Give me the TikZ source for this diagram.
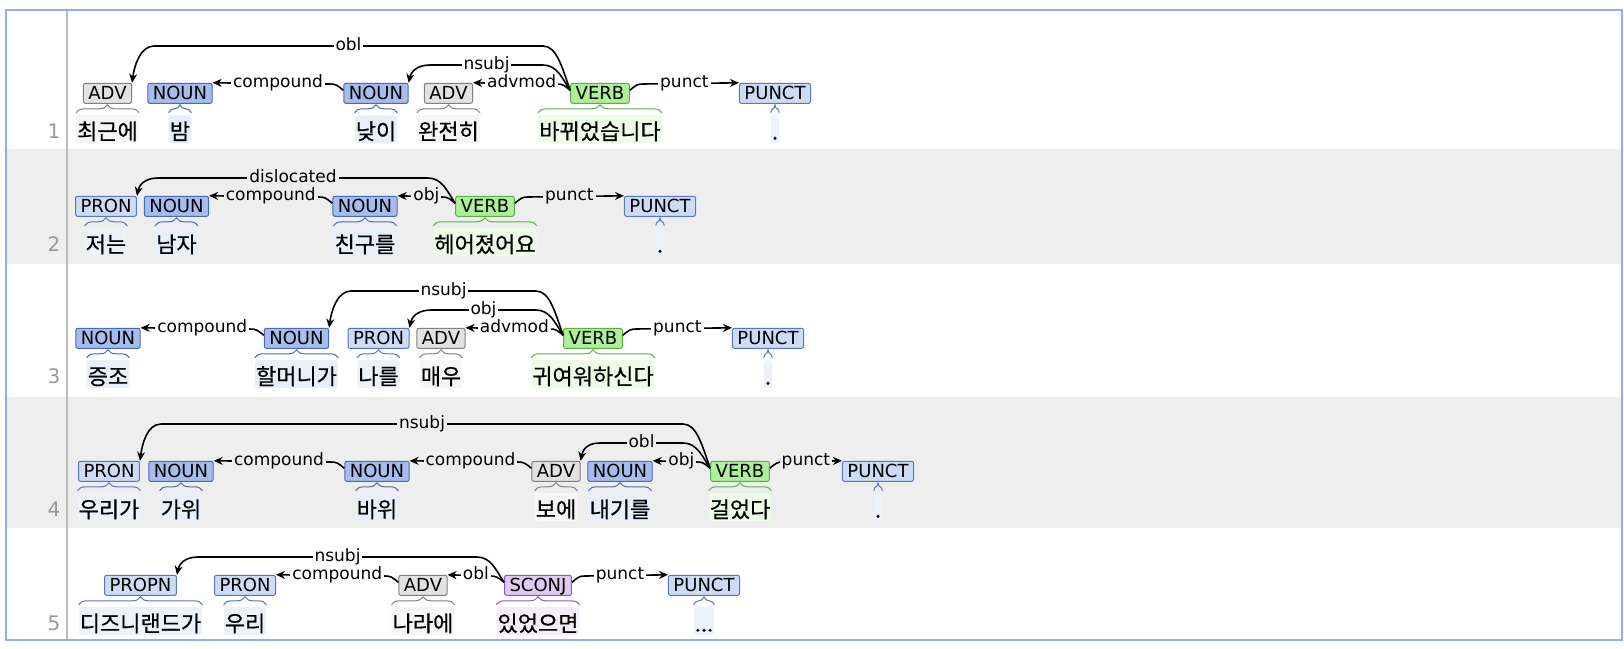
\documentclass[tikz,border=0pt]{standalone}
\usepackage{fontspec}
\setmainfont{DejaVu Sans}
\newfontfamily\kofont[FakeBold=0.5]{Noto Sans CJK KR}
\usetikzlibrary{positioning,calc,arrows.meta,decorations.pathreplacing}

\definecolor{rowgrey}{HTML}{EEEEEE}
\definecolor{framecol}{HTML}{8EAEF5}
\definecolor{gridcol}{HTML}{BBBBBB}
\definecolor{numgrey}{HTML}{999999}
\definecolor{nounfill}{HTML}{A6BCEC}
\definecolor{nounline}{HTML}{4A6AB8}
\definecolor{pronfill}{HTML}{CEDBF5}
\definecolor{pronline}{HTML}{5577C8}
\definecolor{advfill}{HTML}{E2E2E2}
\definecolor{advline}{HTML}{808080}
\definecolor{verbfill}{HTML}{AEEF99}
\definecolor{verbline}{HTML}{5BAF47}
\definecolor{sconjfill}{HTML}{E0CAF4}
\definecolor{sconjline}{HTML}{8A5CC0}
\definecolor{nounword}{HTML}{E8EEFA}
\definecolor{pronword}{HTML}{EDF1FA}
\definecolor{advword}{HTML}{F6F6F6}
\definecolor{verbword}{HTML}{EDFBE8}
\definecolor{sconjword}{HTML}{F4EEFB}

\begin{document}
\begin{tikzpicture}[x=1pt, y=-1pt, >={Stealth[length=9pt,width=8pt]}]
    \tikzstyle{tag} = [rectangle, rounded corners=2pt, line width=1pt, inner xsep=5pt, inner ysep=0pt, minimum height=20pt, text height=13pt, text depth=0pt, font=\fontsize{18}{20}\selectfont]
    \tikzstyle{nountag} = [tag, draw=nounline, fill=nounfill]
    \tikzstyle{prontag} = [tag, draw=pronline, fill=pronfill]
    \tikzstyle{advtag} = [tag, draw=advline, fill=advfill]
    \tikzstyle{verbtag} = [tag, draw=verbline, fill=verbfill]
    \tikzstyle{sconjtag} = [tag, draw=sconjline, fill=sconjfill]
    \tikzstyle{word} = [rectangle, rounded corners=3pt, inner xsep=1pt, inner ysep=0pt, minimum height=28pt, text height=21pt, text depth=0pt, font=\kofont\fontsize{22}{24}\selectfont]
    \tikzstyle{lab} = [fill=white, inner xsep=2pt, inner ysep=0pt, text height=13.3pt, text depth=4pt, font=\fontsize{17}{19}\selectfont]
    \tikzstyle{labg} = [lab, fill=rowgrey]
    \tikzstyle{dep} = [->, line width=1.6pt]
    \tikzstyle{curly} = [decorate, decoration={brace, amplitude=8pt}, line width=1pt]
    \tikzstyle{rownum} = [text=numgrey, font=\fontsize{20}{22}\selectfont]

    % background, rows and frame
    \fill[white] (0,0) rectangle (1624,648);
    \fill[rowgrey] (6,149) rectangle (1622,264);
    \fill[rowgrey] (6,397) rectangle (1622,528);
    \draw[gridcol, line width=2pt] (67,10) -- (67,640);
    \draw[framecol, line width=2.5pt] (6,10) rectangle (1622,640);

    % sentence 1
    \node (num1) [rownum] at (54,131) {1};
    \node (word1a) [word, fill=advword] at (107.5,129) {최근에};
    \node (word1b) [word, fill=nounword] at (180,129) {밤};
    \node (word1c) [word, fill=nounword] at (376,129) {낮이};
    \node (word1d) [word, fill=advword] at (448.5,129) {완전히};
    \node (word1e) [word, fill=verbword] at (600,129) {바뀌었습니다};
    \node (word1f) [word, fill=pronword] at (775,129) {.};
    \node (adv1a) [advtag, above=11pt of word1a] {ADV};
    \node (noun1a) [nountag, above=11pt of word1b] {NOUN};
    \node (noun1b) [nountag, above=11pt of word1c] {NOUN};
    \node (adv1b) [advtag, above=11pt of word1d] {ADV};
    \node (verb1) [verbtag, above=11pt of word1e] {VERB};
    \node (punct1) [prontag, above=11pt of word1f] {PUNCT};
    \draw[curly, advline] ([shift={(0,-2)}]word1a.north west) -- ([shift={(0,-2)}]word1a.north east);
    \draw[curly, nounline] ([shift={(0,-2)}]word1b.north west) -- ([shift={(0,-2)}]word1b.north east);
    \draw[curly, nounline] ([shift={(0,-2)}]word1c.north west) -- ([shift={(0,-2)}]word1c.north east);
    \draw[curly, advline] ([shift={(0,-2)}]word1d.north west) -- ([shift={(0,-2)}]word1d.north east);
    \draw[curly, verbline] ([shift={(0,-2)}]word1e.north west) -- ([shift={(0,-2)}]word1e.north east);
    \draw[curly, pronline] ([shift={(0,-2)}]word1f.north west) -- ([shift={(0,-2)}]word1f.north east);
    \draw[dep] ([shift={(0,-3)}]verb1.west) .. controls +(-8,-22) and +(14,0) .. (543,46) -- node[lab] {obl} (154,46) .. controls +(-14,0) and +(2,-16) .. (adv1a.north east);
    \draw[dep] ([shift={(0,-3)}]verb1.west) .. controls +(-8,-12) and +(14,0) .. (543,65) -- node[lab] {nsubj} (430,65) .. controls +(-14,0) and +(2,-10) .. (noun1b.north east);
    \draw[dep] ([shift={(0,-3)}]noun1b.west) .. controls +(-6,-5) and +(6,0) .. (330,84) -- (noun1a.north east);
    \draw[dep] ([shift={(0,-3)}]verb1.west) .. controls +(-6,-5) and +(6,0) .. (557,84) -- (adv1b.north east);
    \draw[dep] ([shift={(0,-3)}]verb1.east) .. controls +(6,-5) and +(-6,0) .. (643,84) -- (punct1.north west);
    \node (comp1) [lab] at ($(noun1a.north east)!0.5!(noun1b.north west)$) {compound};
    \node (advm1) [lab] at ($(adv1b.north east)!0.5!(verb1.north west)$) {advmod};
    \node (punc1) [lab] at ($(verb1.north east)!0.5!(punct1.north west)$) {punct};

    % sentence 2
    \node (num2) [rownum] at (54,244) {2};
    \node (word2a) [word, fill=pronword] at (106,242) {저는};
    \node (word2b) [word, fill=nounword] at (176.5,242) {남자};
    \node (word2c) [word, fill=nounword] at (365,242) {친구를};
    \node (word2d) [word, fill=verbword] at (485,242) {헤어졌어요};
    \node (word2e) [word, fill=pronword] at (660,242) {.};
    \node (pron2) [prontag, above=11pt of word2a] {PRON};
    \node (noun2a) [nountag, above=11pt of word2b] {NOUN};
    \node (noun2b) [nountag, above=11pt of word2c] {NOUN};
    \node (verb2) [verbtag, above=11pt of word2d] {VERB};
    \node (punct2) [prontag, above=11pt of word2e] {PUNCT};
    \draw[curly, pronline] ([shift={(0,-2)}]word2a.north west) -- ([shift={(0,-2)}]word2a.north east);
    \draw[curly, nounline] ([shift={(0,-2)}]word2b.north west) -- ([shift={(0,-2)}]word2b.north east);
    \draw[curly, nounline] ([shift={(0,-2)}]word2c.north west) -- ([shift={(0,-2)}]word2c.north east);
    \draw[curly, verbline] ([shift={(0,-2)}]word2d.north west) -- ([shift={(0,-2)}]word2d.north east);
    \draw[curly, pronline] ([shift={(0,-2)}]word2e.north west) -- ([shift={(0,-2)}]word2e.north east);
    \draw[dep] ([shift={(0,-3)}]verb2.west) .. controls +(-8,-12) and +(14,0) .. (428,178) -- node[labg] {dislocated} (158,178) .. controls +(-14,0) and +(2,-10) .. (pron2.north east);
    \draw[dep] ([shift={(0,-3)}]noun2b.west) .. controls +(-6,-5) and +(6,0) .. (319,197) -- (noun2a.north east);
    \draw[dep] ([shift={(0,-3)}]verb2.west) .. controls +(-6,-5) and +(6,0) .. (442,197) -- (noun2b.north east);
    \draw[dep] ([shift={(0,-3)}]verb2.east) .. controls +(6,-5) and +(-6,0) .. (528,197) -- (punct2.north west);
    \node (comp2) [labg] at ($(noun2a.north east)!0.5!(noun2b.north west)$) {compound};
    \node (obj2) [labg] at ($(noun2b.north east)!0.5!(verb2.north west)$) {obj};
    \node (punc2) [labg] at ($(verb2.north east)!0.5!(punct2.north west)$) {punct};

    % sentence 3
    \node (num3) [rownum] at (54,376) {3};
    \node (word3a) [word, fill=nounword] at (108,374) {증조};
    \node (word3b) [word, fill=nounword] at (296.5,374) {할머니가};
    \node (word3c) [word, fill=pronword] at (378.5,374) {나를};
    \node (word3d) [word, fill=advword] at (441,374) {매우};
    \node (word3e) [word, fill=verbword] at (593,374) {귀여워하신다};
    \node (word3f) [word, fill=pronword] at (768,374) {.};
    \node (noun3a) [nountag, above=11pt of word3a] {NOUN};
    \node (noun3b) [nountag, above=11pt of word3b] {NOUN};
    \node (pron3) [prontag, above=11pt of word3c] {PRON};
    \node (adv3) [advtag, above=11pt of word3d] {ADV};
    \node (verb3) [verbtag, above=11pt of word3e] {VERB};
    \node (punct3) [prontag, above=11pt of word3f] {PUNCT};
    \draw[curly, nounline] ([shift={(0,-2)}]word3a.north west) -- ([shift={(0,-2)}]word3a.north east);
    \draw[curly, nounline] ([shift={(0,-2)}]word3b.north west) -- ([shift={(0,-2)}]word3b.north east);
    \draw[curly, pronline] ([shift={(0,-2)}]word3c.north west) -- ([shift={(0,-2)}]word3c.north east);
    \draw[curly, advline] ([shift={(0,-2)}]word3d.north west) -- ([shift={(0,-2)}]word3d.north east);
    \draw[curly, verbline] ([shift={(0,-2)}]word3e.north west) -- ([shift={(0,-2)}]word3e.north east);
    \draw[curly, pronline] ([shift={(0,-2)}]word3f.north west) -- ([shift={(0,-2)}]word3f.north east);
    \draw[dep] ([shift={(0,-3)}]noun3b.west) .. controls +(-6,-5) and +(6,0) .. (250,329) -- (noun3a.north east);
    \draw[dep] ([shift={(0,-3)}]verb3.west) .. controls +(-8,-22) and +(14,0) .. (536,291) -- node[lab] {nsubj} (351,291) .. controls +(-14,0) and +(2,-16) .. (noun3b.north east);
    \draw[dep] ([shift={(0,-3)}]verb3.west) .. controls +(-8,-12) and +(14,0) .. (536,310) -- node[lab] {obj} (431,310) .. controls +(-14,0) and +(2,-10) .. (pron3.north east);
    \draw[dep] ([shift={(0,-3)}]verb3.west) .. controls +(-6,-5) and +(6,0) .. (550,329) -- (adv3.north east);
    \draw[dep] ([shift={(0,-3)}]verb3.east) .. controls +(6,-5) and +(-6,0) .. (636,329) -- (punct3.north west);
    \node (comp3) [lab] at ($(noun3a.north east)!0.5!(noun3b.north west)$) {compound};
    \node (advm3) [lab] at ($(adv3.north east)!0.5!(verb3.north west)$) {advmod};
    \node (punc3) [lab] at ($(verb3.north east)!0.5!(punct3.north west)$) {punct};

    % sentence 4
    \node (num4) [rownum] at (54,509) {4};
    \node (word4a) [word, fill=pronword] at (109,507) {우리가};
    \node (word4b) [word, fill=nounword] at (181,507) {가위};
    \node (word4c) [word, fill=nounword] at (377,507) {바위};
    \node (word4d) [word, fill=advword] at (556,507) {보에};
    \node (word4e) [word, fill=nounword] at (620,507) {내기를};
    \node (word4f) [word, fill=verbword] at (740,507) {걸었다};
    \node (word4g) [word, fill=pronword] at (878,507) {.};
    \node (pron4) [prontag, above=11pt of word4a] {PRON};
    \node (noun4a) [nountag, above=11pt of word4b] {NOUN};
    \node (noun4b) [nountag, above=11pt of word4c] {NOUN};
    \node (adv4) [advtag, above=11pt of word4d] {ADV};
    \node (noun4c) [nountag, above=11pt of word4e] {NOUN};
    \node (verb4) [verbtag, above=11pt of word4f] {VERB};
    \node (punct4) [prontag, above=11pt of word4g] {PUNCT};
    \draw[curly, pronline] ([shift={(0,-2)}]word4a.north west) -- ([shift={(0,-2)}]word4a.north east);
    \draw[curly, nounline] ([shift={(0,-2)}]word4b.north west) -- ([shift={(0,-2)}]word4b.north east);
    \draw[curly, nounline] ([shift={(0,-2)}]word4c.north west) -- ([shift={(0,-2)}]word4c.north east);
    \draw[curly, advline] ([shift={(0,-2)}]word4d.north west) -- ([shift={(0,-2)}]word4d.north east);
    \draw[curly, nounline] ([shift={(0,-2)}]word4e.north west) -- ([shift={(0,-2)}]word4e.north east);
    \draw[curly, verbline] ([shift={(0,-2)}]word4f.north west) -- ([shift={(0,-2)}]word4f.north east);
    \draw[curly, pronline] ([shift={(0,-2)}]word4g.north west) -- ([shift={(0,-2)}]word4g.north east);
    \draw[dep] ([shift={(0,-3)}]noun4b.west) .. controls +(-6,-5) and +(6,0) .. (331,462) -- (noun4a.north east);
    \draw[dep] ([shift={(0,-3)}]adv4.west) .. controls +(-6,-5) and +(6,0) .. (518,462) -- (noun4b.north east);
    \draw[dep] ([shift={(0,-3)}]verb4.west) .. controls +(-8,-22) and +(14,0) .. (683,424) -- node[labg] {nsubj} (161,424) .. controls +(-14,0) and +(2,-16) .. (pron4.north east);
    \draw[dep] ([shift={(0,-3)}]verb4.west) .. controls +(-8,-12) and +(14,0) .. (683,443) -- node[labg] {obl} (600,443) .. controls +(-14,0) and +(2,-10) .. (adv4.north east);
    \draw[dep] ([shift={(0,-3)}]verb4.west) .. controls +(-6,-5) and +(6,0) .. (697,462) -- (noun4c.north east);
    \draw[dep] ([shift={(0,-3)}]verb4.east) .. controls +(6,-5) and +(-6,0) .. (783,462) -- (punct4.north west);
    \node (comp4a) [labg] at ($(noun4a.north east)!0.5!(noun4b.north west)$) {compound};
    \node (comp4b) [labg] at ($(noun4b.north east)!0.5!(adv4.north west)$) {compound};
    \node (obj4) [labg] at ($(noun4c.north east)!0.5!(verb4.north west)$) {obj};
    \node (punc4) [labg] at ($(verb4.north east)!0.5!(punct4.north west)$) {punct};

    % sentence 5
    \node (num5) [rownum] at (54,623) {5};
    \node (word5a) [word, fill=pronword] at (140.5,621) {디즈니랜드가};
    \node (word5b) [word, fill=pronword] at (245,621) {우리};
    \node (word5c) [word, fill=advword] at (423,621) {나라에};
    \node (word5d) [word, fill=sconjword] at (538,621) {있었으면};
    \node (word5e) [word, fill=pronword] at (704,621) {...};
    \node (propn5) [prontag, above=11pt of word5a] {PROPN};
    \node (pron5) [prontag, above=11pt of word5b] {PRON};
    \node (adv5) [advtag, above=11pt of word5c] {ADV};
    \node (sconj5) [sconjtag, above=11pt of word5d] {SCONJ};
    \node (punct5) [prontag, above=11pt of word5e] {PUNCT};
    \draw[curly, pronline] ([shift={(0,-2)}]word5a.north west) -- ([shift={(0,-2)}]word5a.north east);
    \draw[curly, pronline] ([shift={(0,-2)}]word5b.north west) -- ([shift={(0,-2)}]word5b.north east);
    \draw[curly, advline] ([shift={(0,-2)}]word5c.north west) -- ([shift={(0,-2)}]word5c.north east);
    \draw[curly, sconjline] ([shift={(0,-2)}]word5d.north west) -- ([shift={(0,-2)}]word5d.north east);
    \draw[curly, pronline] ([shift={(0,-2)}]word5e.north west) -- ([shift={(0,-2)}]word5e.north east);
    \draw[dep] ([shift={(0,-3)}]sconj5.west) .. controls +(-8,-12) and +(14,0) .. (477,557) -- node[lab] {nsubj} (198,557) .. controls +(-14,0) and +(2,-10) .. (propn5.north east);
    \draw[dep] ([shift={(0,-3)}]adv5.west) .. controls +(-6,-5) and +(6,0) .. (385,576) -- (pron5.north east);
    \draw[dep] ([shift={(0,-3)}]sconj5.west) .. controls +(-6,-5) and +(6,0) .. (490,576) -- (adv5.north east);
    \draw[dep] ([shift={(0,-3)}]sconj5.east) .. controls +(6,-5) and +(-6,0) .. (585,576) -- (punct5.north west);
    \node (comp5) [lab] at ($(pron5.north east)!0.5!(adv5.north west)$) {compound};
    \node (obl5) [lab] at ($(adv5.north east)!0.5!(sconj5.north west)$) {obl};
    \node (punc5) [lab] at ($(sconj5.north east)!0.5!(punct5.north west)$) {punct};
\end{tikzpicture}
\end{document}
